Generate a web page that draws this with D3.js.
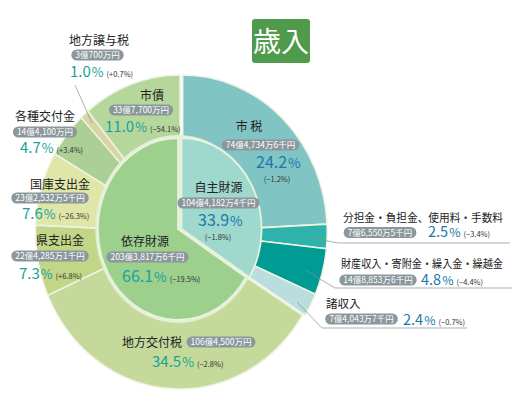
<!DOCTYPE html>
<html>
<head>
<meta charset="utf-8">
<script src="https://cdn.jsdelivr.net/npm/d3@7"></script>
<style>
body { margin: 0; background: #fff; }
text { font-family: "Noto Sans CJK JP", "Noto Sans", sans-serif; }
</style>
</head>
<body>
<div id="chart"></div>
<script>
var width = 520;
var height = 400;

// outer ring, clockwise from 12 o'clock
var outerNames = ["市税", "分担金・負担金、使用料・手数料", "財産収入・寄附金・繰入金・繰越金", "諸収入",
  "地方交付税", "県支出金", "国庫支出金", "各種交付金", "地方譲与税", "市債"];
var outerPct = [24.2, 2.5, 4.8, 2.4, 34.5, 7.3, 7.6, 4.7, 1.0, 11.0];
var outerAmount = ["74億4,734万6千円", "7億6,550万5千円", "14億8,853万6千円", "7億4,043万7千円",
  "106億4,500万円", "22億4,285万1千円", "23億2,532万5千円", "14億4,100万円", "3億700万円", "33億7,700万円"];
var outerChange = ["(−1.2%)", "(−3.4%)", "(−4.4%)", "(−0.7%)",
  "(−2.8%)", "(+6.8%)", "(−26.3%)", "(+3.4%)", "(+0.7%)", "(−54.1%)"];
var outerGroup = [0, 0, 0, 0, 1, 1, 1, 1, 1, 1];
var outerColors = ["#80c5c4", "#2db3ac", "#009c94", "#b9dedd",
  "#c4d99a", "#c3d587", "#dfe6a8", "#abcf94", "#d8d4a6", "#b6d79b"];

// inner pie
var innerNames = ["自主財源", "依存財源"];
var innerPct = [33.9, 66.1];
var innerAmount = ["104億4,182万4千円", "203億3,817万6千円"];
var innerChange = ["(−1.8%)", "(−19.5%)"];
var innerColors = ["#9fd8cc", "#9dd08d"];

var teal = "#17a398", blue = "#1b78ad";

const svg = d3.select("#chart").append("svg")
  .attr("width", width)
  .attr("height", height);

var pie = d3.pie().sort(null).value(function (d) { return d; });

// outer ring
var outerArc = d3.arc().innerRadius(0).outerRadius(157);
var outer = svg.append("g")
  .attr("transform", "translate(180,232) scale(0.92,1)");
outer.selectAll("path")
  .data(pie(outerPct))
  .enter().append("path")
  .attr("d", outerArc)
  .attr("transform", function (d, i) { return outerGroup[i] == 0 ? "translate(3,0)" : null; })
  .attr("fill", function (d, i) { return outerColors[i]; })
  .attr("stroke", "#eef3e2")
  .attr("stroke-width", 1.6);

// inner pie
var innerArc = d3.arc().innerRadius(0).outerRadius(91);
var inner = svg.append("g")
  .attr("transform", "translate(178,229) scale(0.88,1)");
inner.append("circle")
  .attr("r", 94)
  .attr("fill", "#e3efd6");
inner.selectAll("path")
  .data(pie(innerPct))
  .enter().append("path")
  .attr("d", innerArc)
  .attr("transform", function (d, i) { return i == 0 ? "translate(4,0)" : null; })
  .attr("fill", function (d, i) { return innerColors[i]; })
  .attr("stroke", "#e8f2dc")
  .attr("stroke-width", 2);

// leader lines
var leaders = [
  [[75, 85], [92, 123]],
  [[308, 237], [338, 243], [510, 243]],
  [[305, 270], [335, 288], [512, 288]],
  [[297, 302], [322, 328], [467, 328]]
];
svg.selectAll(".leader")
  .data(leaders)
  .enter().append("path")
  .attr("class", "leader")
  .attr("d", d3.line())
  .attr("fill", "none")
  .attr("stroke", "#8a8f8f")
  .attr("stroke-width", 0.7);

// label helpers
function pill(x, y, txt) {
  var g = svg.append("g");
  var t = g.append("text")
    .attr("x", x).attr("y", y + 3)
    .attr("text-anchor", "middle")
    .attr("font-size", 8.5)
    .attr("fill", "#fff")
    .text(txt);
  var w = t.node().getComputedTextLength() + 8;
  g.insert("rect", "text")
    .attr("x", x - w / 2).attr("y", y - 5.5)
    .attr("width", w).attr("height", 11)
    .attr("rx", 5.5)
    .attr("fill", "#8b979c");
}
function name(x, y, txt, anchor, size, len) {
  var t = svg.append("text")
    .attr("x", x).attr("y", y)
    .attr("text-anchor", anchor || "middle")
    .attr("font-size", size || 12)
    .attr("fill", "#222")
    .text(txt);
  if (len) t.attr("textLength", len).attr("lengthAdjust", "spacingAndGlyphs");
}
function pct(x, y, p, chg, color, size) {
  var t = svg.append("text")
    .attr("x", x).attr("y", y)
    .attr("fill", color)
    .attr("font-family", "Roboto, sans-serif")
    .attr("font-size", size || 15);
  t.append("tspan").text(p.toFixed(1));
  t.append("tspan").attr("font-size", (size || 15) * 0.85).attr("dx", 1).text("%");
  if (chg) {
    t.append("tspan").attr("font-size", 7.5).attr("dx", 3).attr("fill", "#333")
      .attr("font-family", "Noto Sans CJK JP, sans-serif").text(chg);
  }
}

// label layout: [name x, name y, pill x, pill y, pct x, pct y, name width]
var outerLayout = [
  [249, 131, 260.5, 145, 256, 168],
  [343, 222, 380, 232.5, 428, 237, 160],
  [341, 268, 378, 280, 421, 285, 162],
  [326, 308, 361.5, 319, 403, 325],
  [152, 347, 221, 342, 152, 367],
  [60, 245, 50, 256, 19, 279],
  [60, 189, 50, 198, 22, 219],
  [45, 121, 45, 132, 20, 153],
  [99, 45, 97.5, 55, 70, 77],
  [152, 100, 141, 110, 105, 132]
];

outerNames.forEach(function (n, i) {
  var L = outerLayout[i];
  var right = (i >= 1 && i <= 3);
  if (i == 0) name(L[0], L[1], "市 税");
  else if (right) name(L[0], L[1], n, "start", 11.5, L[6]);
  else name(L[0], L[1], n);
  pill(L[2], L[3], outerAmount[i]);
  var color = outerGroup[i] == 0 ? blue : teal;
  if (i == 0) {
    pct(L[4], L[5], outerPct[i], null, color, 16);
    svg.append("text").attr("x", 277).attr("y", 182).attr("text-anchor", "middle")
      .attr("font-size", 7.5).attr("fill", "#333").text(outerChange[i]);
  } else {
    pct(L[4], L[5], outerPct[i], outerChange[i], color, right ? 14.5 : 15);
  }
});

// inner labels
name(218.5, 192, innerNames[0]);
pill(218.5, 203, innerAmount[0]);
pct(198, 226, innerPct[0], null, blue, 16);
svg.append("text").attr("x", 218).attr("y", 240).attr("text-anchor", "middle")
  .attr("font-size", 7.5).attr("fill", "#333").text(innerChange[0]);

name(145, 246, innerNames[1]);
pill(147.5, 257, innerAmount[1]);
pct(122, 282, innerPct[1], innerChange[1], teal, 16);

// title
svg.append("rect")
  .attr("x", 252).attr("y", 19)
  .attr("width", 58).attr("height", 44)
  .attr("rx", 3)
  .attr("fill", "#4f9a4b");
svg.append("text")
  .attr("x", 281).attr("y", 52)
  .attr("text-anchor", "middle")
  .attr("font-size", 28)
  .attr("fill", "#fff")
  .text("歳入");
</script>
</body>
</html>
